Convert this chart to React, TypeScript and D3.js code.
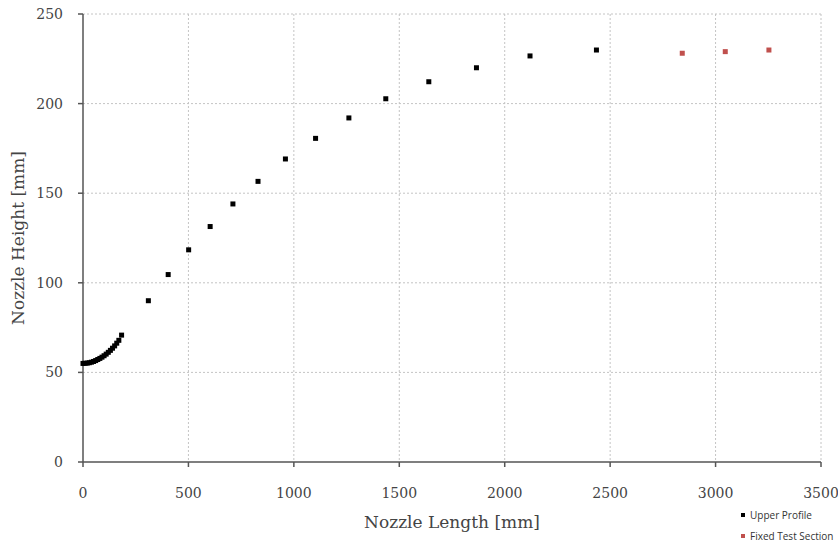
import React from 'react';
import * as d3 from 'd3';

// upper nozzle profile (mm)
const profileX = [0, 10, 20, 30, 40, 50, 60, 70, 80, 90, 100, 110, 120, 130, 140, 150, 160, 170, 183,
  310, 404, 501, 603, 711, 830, 960, 1103, 1261, 1436, 1640, 1866, 2120, 2435];
const profileY = [55.0, 55.1, 55.2, 55.4, 55.7, 56.1, 56.6, 57.2, 57.8, 58.5, 59.3, 60.2, 61.2, 62.3, 63.5, 64.8, 66.3, 67.9, 70.8,
  90.0, 104.6, 118.4, 131.4, 144.0, 156.6, 169.1, 180.6, 192.0, 202.7, 212.2, 220.0, 226.6, 229.9];

// fixed test section (mm)
const testX = [2842, 3046, 3253];
const testY = [228.1, 229.0, 229.9];

const xTicks = [0, 500, 1000, 1500, 2000, 2500, 3000, 3500];
const yTicks = [0, 50, 100, 150, 200, 250];

const W = 838;
const H = 544;
const margin = { top: 14, right: 17, bottom: 82, left: 83 };

const serif = '"DejaVu Serif", "Liberation Serif", serif';

const App = () => {
  const x = d3.scaleLinear().domain([0, 3500]).range([margin.left, W - margin.right]);
  const y = d3.scaleLinear().domain([0, 250]).range([H - margin.bottom, margin.top]);
  const s = 5;

  const upper = profileX.map((d, i) => [d, profileY[i]]);
  const fixed = testX.map((d, i) => [d, testY[i]]);

  return (
    <svg width={W} height={H} style={{ position: 'absolute', left: 0, top: 0, background: '#fff' }}>
      {/* grid */}
      <g stroke="#c4c4c4" strokeWidth={1} strokeDasharray="2,2">
        {xTicks.filter(t => t > 0).map(t => (
          <line key={'gx' + t} x1={x(t)} x2={x(t)} y1={y(250)} y2={y(0)} />
        ))}
        {yTicks.filter(t => t > 0).map(t => (
          <line key={'gy' + t} x1={x(0)} x2={x(3500)} y1={y(t)} y2={y(t)} />
        ))}
      </g>

      {/* axes */}
      <g stroke="#555" strokeWidth={1.5}>
        <line x1={x(0)} x2={x(3500)} y1={y(0)} y2={y(0)} />
        <line x1={x(0)} x2={x(0)} y1={y(0)} y2={y(250)} />
        {xTicks.map(t => (
          <line key={'tx' + t} x1={x(t)} x2={x(t)} y1={y(0)} y2={y(0) + 5} />
        ))}
        {yTicks.map(t => (
          <line key={'ty' + t} x1={x(0) - 5} x2={x(0)} y1={y(t)} y2={y(t)} />
        ))}
      </g>

      <g fontFamily={serif} fontSize={14} fill="#444">
        {xTicks.map(t => (
          <text key={'lx' + t} x={x(t)} y={y(0) + 36} textAnchor="middle">{t}</text>
        ))}
        {yTicks.map(t => (
          <text key={'ly' + t} x={x(0) - 20} y={y(t) + 5} textAnchor="end">{t}</text>
        ))}
      </g>

      <text x={(x(0) + x(3500)) / 2} y={528} textAnchor="middle" fontFamily={serif} fontSize={17} fill="#444">
        Nozzle Length [mm]
      </text>
      <text transform={`translate(24,${(y(0) + y(250)) / 2}) rotate(-90)`} textAnchor="middle"
        fontFamily={serif} fontSize={17} fill="#444">
        Nozzle Height [mm]
      </text>

      {/* data */}
      <g fill="#000">
        {upper.map((d, i) => (
          <rect key={'u' + i} x={x(d[0]) - s / 2} y={y(d[1]) - s / 2} width={s} height={s} />
        ))}
      </g>
      <g fill="#c0504d">
        {fixed.map((d, i) => (
          <rect key={'f' + i} x={x(d[0]) - s / 2} y={y(d[1]) - s / 2} width={s} height={s} />
        ))}
      </g>

      {/* legend */}
      <g fontFamily='"Open Sans", sans-serif' fontSize={10} fill="#333">
        <rect x={741} y={513} width={4} height={4} fill="#000" />
        <text x={750} y={519}>Upper Profile</text>
        <rect x={741} y={534} width={4} height={4} fill="#c0504d" />
        <text x={750} y={540}>Fixed Test Section</text>
      </g>
    </svg>
  );
};

export default App;
